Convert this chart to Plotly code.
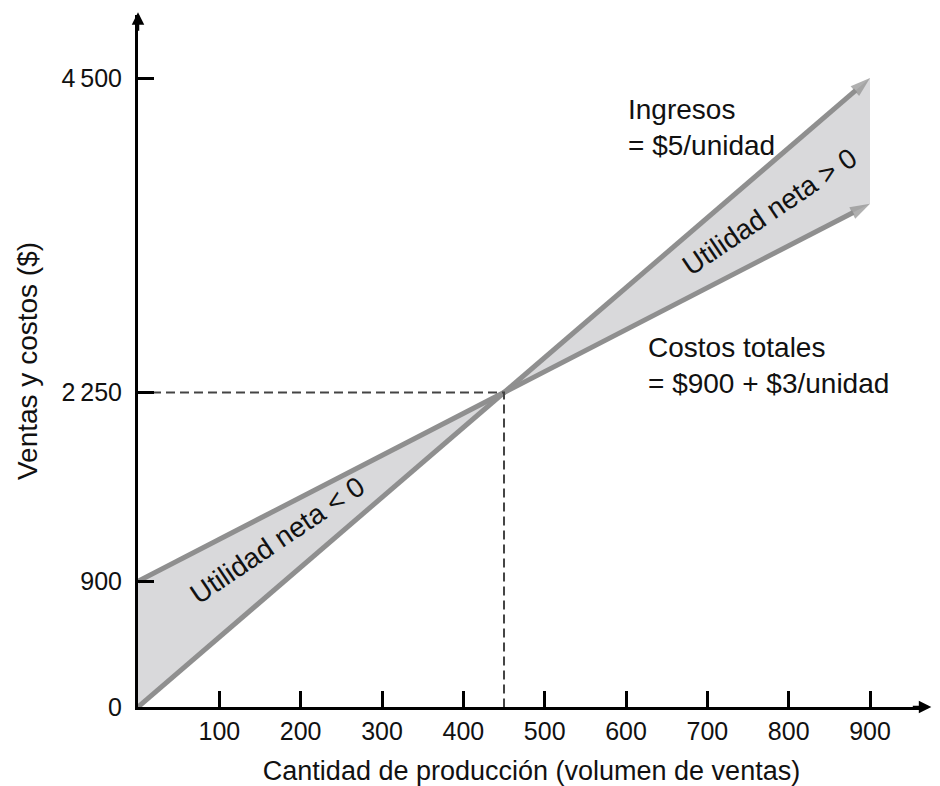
import plotly.graph_objects as go

# ---- data ----
x_units = [0, 450, 900]                 # production quantity
revenue = [0, 2250, 4500]               # Ingresos = $5/unidad
total_costs = [900, 2250, 3600]         # Costos totales = $900 + $3/unidad
breakeven_units = 450
breakeven_value = 2250
x_ticks = [100, 200, 300, 400, 500, 600, 700, 800, 900]
y_ticks = [0, 900, 2250, 4500]
y_tick_labels = ["0", "900", "2\u2009250", "4\u2009500"]

FONT = "Liberation Sans, Arial, Helvetica, sans-serif"
TXT = "#111111"
LINE_GRAY = "#8f8f8f"
FILL_GRAY = "#d9d9db"

fig = go.Figure()

# shaded bow-tie between revenue and cost lines
fig.add_trace(go.Scatter(
    x=x_units + x_units[::-1],
    y=total_costs + revenue[::-1],
    fill="toself", fillcolor=FILL_GRAY,
    line=dict(width=0), mode="lines", hoverinfo="skip", showlegend=False))

arrow_sizes = [0] * (len(x_units) - 1) + [21]
for ys in (revenue, total_costs):
    fig.add_trace(go.Scatter(
        x=x_units, y=ys, mode="lines+markers",
        line=dict(color=LINE_GRAY, width=5),
        marker=dict(symbol="arrow", size=arrow_sizes, color=LINE_GRAY,
                    angleref="previous", line=dict(width=0)),
        showlegend=False, hoverinfo="skip"))

# break-even dashed guides
fig.add_trace(go.Scatter(
    x=[0, breakeven_units, breakeven_units],
    y=[breakeven_value, breakeven_value, 0],
    mode="lines", line=dict(color="#444444", width=2, dash="9px,5px"),
    showlegend=False, hoverinfo="skip"))

annotations = [
    dict(x=600, y=4149, xref="x", yref="y", text="Ingresos<br>= $5/unidad",
         showarrow=False, xanchor="left", yanchor="middle", align="left",
         font=dict(size=28, color=TXT, family=FONT)),
    dict(x=625, y=2440, xref="x", yref="y", text="Costos totales<br>= $900 + $3/unidad",
         showarrow=False, xanchor="left", yanchor="middle", align="left",
         font=dict(size=28, color=TXT, family=FONT)),
    dict(x=777, y=3545, xref="x", yref="y", text="Utilidad neta > 0",
         showarrow=False, textangle=-34,
         font=dict(size=28, color=TXT, family=FONT)),
    dict(x=171, y=1190, xref="x", yref="y", text="Utilidad neta < 0",
         showarrow=False, textangle=-34,
         font=dict(size=28, color=TXT, family=FONT)),
    # axis arrowheads
    dict(x=0, y=1.004, xref="paper", yref="paper", text="", showarrow=True,
         ax=0, ay=20, arrowhead=2, arrowwidth=2.5, arrowsize=1, arrowcolor="black"),
    dict(x=1.008, y=0, xref="paper", yref="paper", text="", showarrow=True,
         ax=-20, ay=0, arrowhead=2, arrowwidth=2.5, arrowsize=1, arrowcolor="black"),
]

fig.update_layout(
    template="none",
    width=940, height=786,
    margin=dict(l=130, r=23, t=7, b=87),
    paper_bgcolor="white", plot_bgcolor="white",
    font=dict(family=FONT, color=TXT),
    annotations=annotations,
    showlegend=False,
)

fig.update_xaxes(
    range=[0, 967.6], showgrid=False, zeroline=False,
    showline=True, linecolor="black", linewidth=3,
    ticks="inside", ticklen=16, tickwidth=3, tickcolor="black",
    tickvals=x_ticks, tickfont=dict(size=25, color=TXT, family=FONT),
    ticklabelstandoff=0,
    title=dict(text="Cantidad de producción (volumen de ventas)",
               font=dict(size=27, color=TXT, family=FONT), standoff=18),
)
fig.update_yaxes(
    range=[0, 4951], showgrid=False, zeroline=False,
    showline=True, linecolor="black", linewidth=3,
    ticks="inside", ticklen=16, tickwidth=3, tickcolor="black",
    tickvals=y_ticks, ticktext=y_tick_labels,
    tickfont=dict(size=25, color=TXT, family=FONT),
    ticklabelstandoff=8,
    title=dict(text="Ventas y costos ($)",
               font=dict(size=28, color=TXT, family=FONT), standoff=16),
)

fig.write_html("out.html")
